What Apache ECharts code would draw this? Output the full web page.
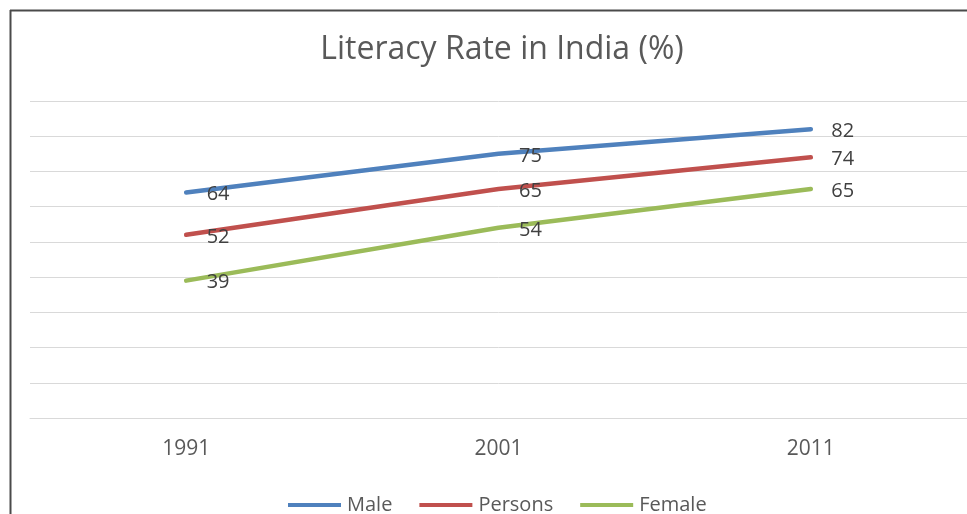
<!DOCTYPE html>
<html>
<head>
<meta charset="utf-8">
<script src="https://cdn.jsdelivr.net/npm/echarts@6/dist/echarts.min.js"></script>
<style>
html,body{margin:0;padding:0;background:#fff;}
#chart{width:967px;height:514px;}
</style>
</head>
<body>
<div id="chart"></div>
<script>
const years = ['1991', '2001', '2011'];
const male = [64, 75, 82];
const persons = [52, 65, 74];
const female = [39, 54, 65];
const seriesNames = ['Male', 'Persons', 'Female'];
const colors = ['#4F81BD', '#C0504D', '#9BBB59'];

const FONT = 'Open Sans';
const chart = echarts.init(document.getElementById('chart'));

function lineSeries(name, data, color) {
  return {
    name: name,
    type: 'line',
    data: data,
    symbol: 'circle',
    symbolSize: 1,
    showSymbol: true,
    color: color,
    itemStyle: { color: 'transparent', borderWidth: 0 },
    lineStyle: { color: color, width: 4.5, cap: 'round' },
    label: {
      show: true,
      position: 'right',
      distance: 20,
      offset: [0, 2],
      color: '#404040',
      fontSize: 20,
      fontFamily: FONT
    },
    emphasis: { disabled: true },
    animation: false
  };
}

chart.setOption({
  backgroundColor: '#fff',
  animation: false,
  title: {
    text: 'Literacy Rate in India (%)',
    left: 497,
    textAlign: 'center',
    top: 29,
    textStyle: { color: '#595959', fontSize: 32, fontWeight: 'normal', fontFamily: FONT }
  },
  legend: {
    bottom: -6,
    left: 283,
    icon: 'rect',
    itemWidth: 53,
    itemHeight: 4,
    itemGap: 27,
    textStyle: { color: '#595959', fontSize: 20, fontFamily: FONT, padding: [0, 0, 0, 1] },
    data: seriesNames.map((n, i) => ({ name: n, itemStyle: { color: colors[i], opacity: 1 } }))
  },
  grid: { left: 30, right: 0, top: 101, bottom: 96 },
  xAxis: {
    type: 'category',
    data: years,
    boundaryGap: true,
    axisLine: { show: true, lineStyle: { color: '#D9D9D9', width: 1 } },
    axisTick: { show: false },
    axisLabel: { color: '#595959', fontSize: 21, fontFamily: FONT, margin: 21 }
  },
  yAxis: {
    type: 'value',
    min: 0,
    max: 90,
    interval: 10,
    axisLine: { show: false },
    axisTick: { show: false },
    axisLabel: { show: false },
    splitLine: { lineStyle: { color: '#D9D9D9', width: 1 } }
  },
  graphic: [
    { type: 'line', shape: { x1: 10.5, y1: 10, x2: 10.5, y2: 514 }, style: { stroke: '#4a4a4a', lineWidth: 2 } },
    { type: 'line', shape: { x1: 10, y1: 10.5, x2: 967, y2: 10.5 }, style: { stroke: '#4a4a4a', lineWidth: 2 } }
  ],
  series: [
    lineSeries('Male', male, colors[0]),
    lineSeries('Persons', persons, colors[1]),
    lineSeries('Female', female, colors[2])
  ]
});
</script>
</body>
</html>
